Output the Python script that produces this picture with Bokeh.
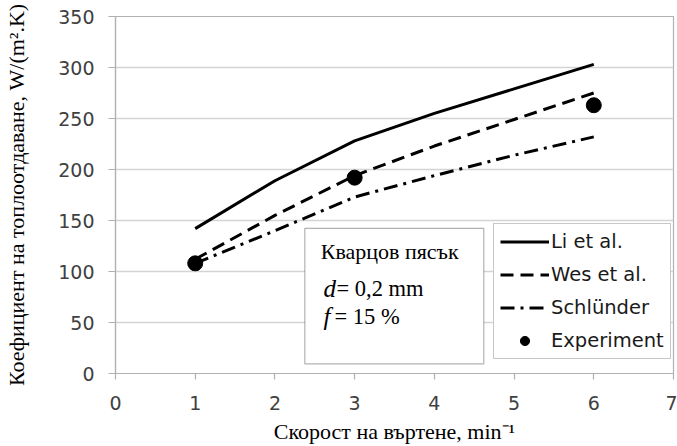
from bokeh.plotting import figure
from bokeh.models import Legend, LegendItem, BoxAnnotation, Label, FixedTicker, Range1d
from bokeh.embed import file_html
from bokeh.resources import INLINE

# ---- data ----
speed = [1, 2, 3, 4, 5, 6]
li_et_al = [142, 189, 228, 255, 279, 303]
wes_et_al = [112, 155, 194, 223, 249, 275]
schluender = [108, 140, 173, 194, 214, 232]
exp_speed = [1, 3, 6]
exp_value = [108, 192, 263]
x_ticks = [0, 1, 2, 3, 4, 5, 6, 7]
y_ticks = [0, 50, 100, 150, 200, 250, 300, 350]
series_names = ["Li et al.", "Wes et al.", "Schlünder", "Experiment"]
x_title = "Скорост на въртене, min⁻¹"
y_title = "Коефициент на топлоотдаване, W/(m².K)"
box_lines = ["Кварцов пясък", "d", "= 0,2 mm", "f", "= 15 %"]

GRID = "#d4d4d4"
AXIS = "#b0b0b0"
TICKTXT = "#404040"

p = figure(width=677, height=446,
           x_range=Range1d(0, 7), y_range=Range1d(0, 350),
           output_backend="svg", toolbar_location=None,
           min_border_left=115, min_border_right=4,
           min_border_top=16, min_border_bottom=69,
           background_fill_color="white", border_fill_color="white")

p.outline_line_color = AXIS
p.outline_line_width = 1.2
p.xgrid.visible = False
p.ygrid.grid_line_color = GRID
p.ygrid.grid_line_width = 1.3
p.ygrid.ticker = FixedTicker(ticks=y_ticks)

for ax, ticks, tout in ((p.xaxis[0], x_ticks, 6), (p.yaxis[0], y_ticks, 7)):
    ax.ticker = FixedTicker(ticks=ticks)
    ax.axis_line_color = AXIS
    ax.axis_line_width = 1.2
    ax.major_tick_line_color = AXIS
    ax.major_tick_line_width = 1.2
    ax.major_tick_out = tout
    ax.major_tick_in = 0
    ax.minor_tick_line_color = None
    ax.major_label_text_font = "DejaVu Sans"
    ax.major_label_text_font_size = "19px"
    ax.major_label_text_color = TICKTXT
    ax.axis_label_text_font = "Liberation Serif"
    ax.axis_label_text_font_style = "normal"
    ax.axis_label_text_font_size = "22px"
    ax.axis_label_text_color = "black"

p.xaxis[0].axis_label = x_title
p.xaxis[0].major_label_standoff = 16
p.xaxis[0].axis_label_standoff = 6
p.yaxis[0].axis_label = y_title
p.yaxis[0].major_label_standoff = 14
p.yaxis[0].axis_label_standoff = 26

r_li = p.line(speed, li_et_al, line_color="black", line_width=3)
r_wes = p.line(speed, wes_et_al, line_color="black", line_width=3, line_dash="13 7")
r_sch = p.line(speed, schluender, line_color="black", line_width=3, line_dash="14 6 3 6")
r_exp = p.scatter(exp_speed, exp_value, size=15, marker="circle",
                  fill_color="black", line_color="black")

# parameter box
box = BoxAnnotation(left=2.375, right=4.62, bottom=9.4, top=142.3,
                    fill_color="white", fill_alpha=1.0,
                    line_color="black", line_width=1.2)
p.add_layout(box)

p.add_layout(Label(x=2.575, y=120, text=box_lines[0], text_font="Liberation Serif",
                   text_font_size="22px", text_baseline="middle", text_color="black"))
p.add_layout(Label(x=2.61, y=83.5, text=box_lines[1], text_font="Liberation Serif",
                   text_font_style="italic", text_font_size="25px",
                   text_baseline="middle", text_color="black"))
p.add_layout(Label(x=2.61, y=83.5, x_offset=13, text=box_lines[2], text_font="Liberation Serif",
                   text_font_size="22.5px", text_baseline="middle", text_color="black"))
p.add_layout(Label(x=2.61, y=56, text=box_lines[3], text_font="Liberation Serif",
                   text_font_style="italic", text_font_size="25px",
                   text_baseline="middle", text_color="black"))
p.add_layout(Label(x=2.61, y=56, x_offset=11, text=box_lines[4], text_font="Liberation Serif",
                   text_font_size="22.5px", text_baseline="middle", text_color="black"))

legend = Legend(items=[LegendItem(label=series_names[0], renderers=[r_li]),
                       LegendItem(label=series_names[1], renderers=[r_wes]),
                       LegendItem(label=series_names[2], renderers=[r_sch]),
                       LegendItem(label=series_names[3], renderers=[r_exp])],
                location=(378, 14))
legend.border_line_color = "#909090"
legend.border_line_width = 1.5
legend.background_fill_color = "white"
legend.background_fill_alpha = 1.0
legend.padding = 6
legend.spacing = 10
legend.margin = 0
legend.glyph_width = 49
legend.glyph_height = 23
legend.label_height = 23
legend.label_standoff = 2
legend.label_text_font = "DejaVu Sans"
legend.label_text_font_size = "19.5px"
legend.label_text_color = "#1a1a1a"
p.add_layout(legend, "center")

open("out.html", "w").write(file_html(p, INLINE))
